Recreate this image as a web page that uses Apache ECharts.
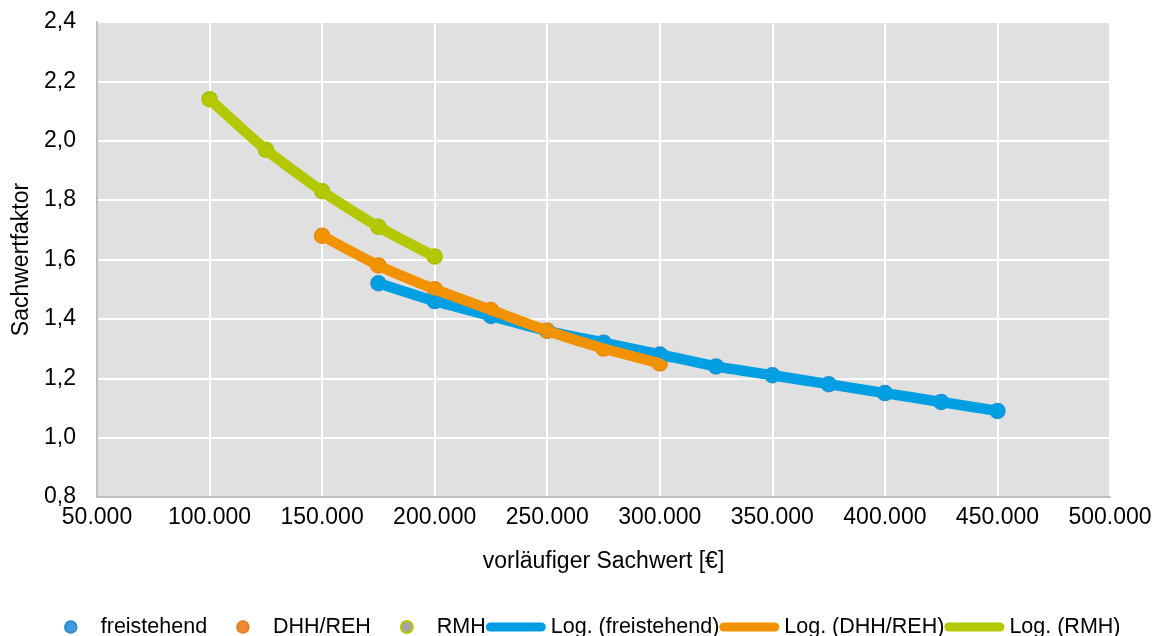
<!DOCTYPE html>
<html>
<head>
<meta charset="utf-8">
<script src="https://cdn.jsdelivr.net/npm/echarts@6/dist/echarts.min.js"></script>
<style>
html,body{margin:0;padding:0;background:#fff;}
#chart{width:1155px;height:636px;}
</style>
</head>
<body>
<div id="chart"></div>
<script>
// Data
const xFrei = [175000, 200000, 225000, 250000, 275000, 300000, 325000, 350000, 375000, 400000, 425000, 450000];
const yFrei = [1.52, 1.46, 1.41, 1.36, 1.32, 1.28, 1.24, 1.21, 1.18, 1.15, 1.12, 1.09];
const xDhh = [150000, 175000, 200000, 225000, 250000, 275000, 300000];
const yDhh = [1.68, 1.58, 1.50, 1.43, 1.36, 1.30, 1.25];
const xRmh = [100000, 125000, 150000, 175000, 200000];
const yRmh = [2.14, 1.97, 1.83, 1.71, 1.61];
const seriesNames = ['freistehend', 'DHH/REH', 'RMH', 'Log. (freistehend)', 'Log. (DHH/REH)', 'Log. (RMH)'];
const xAxisName = 'vorläufiger Sachwert [€]';
const yAxisName = 'Sachwertfaktor';

const pairs = (xs, ys) => xs.map((x, i) => [x, ys[i]]);
const cBlue = '#009fe3', cOrange = '#f39200', cGreen = '#b3c800';
const FONT = '"Liberation Sans", Arial, sans-serif';

// legend icons: invisible bounding box 60x13 so the icon fills the legend slot
const dotIcon = 'path://M0,0M60,13M29,6.5a6,6 0 1,0 12,0a6,6 0 1,0 -12,0Z';
const barIcon = 'path://M0,0M60,13M4.5,2L55.5,2A4.5,4.5 0 0,1 55.5,11L4.5,11A4.5,4.5 0 0,1 4.5,2Z';

const chart = echarts.init(document.getElementById('chart'), null, {renderer: 'canvas'});

function scatter(name, data, color, border, z) {
  return {
    name: name, type: 'scatter', data: data, symbol: 'circle', symbolSize: 15, z: z,
    itemStyle: {color: color, borderColor: border, borderWidth: 1.5, opacity: 1},
    emphasis: {disabled: true}
  };
}
function trend(name, data, color, z) {
  return {
    name: name, type: 'line', data: data, symbol: 'none', smooth: 0.2, z: z,
    lineStyle: {color: color, width: 10.5, cap: 'round', join: 'round'},
    itemStyle: {color: color},
    emphasis: {disabled: true}
  };
}

const option = {
  animation: false,
  textStyle: {fontFamily: FONT},
  grid: {left: 97, right: 45, top: 22, bottom: 139, show: true, backgroundColor: '#e0e0e0', borderWidth: 0},
  xAxis: {
    type: 'value', min: 50000, max: 500000, interval: 50000,
    name: xAxisName, nameLocation: 'middle', nameGap: 53,
    nameTextStyle: {fontSize: 23, color: '#000', fontFamily: FONT},
    axisLine: {show: true, onZero: false, lineStyle: {color: '#bfbfbf', width: 2}},
    axisTick: {show: false},
    axisLabel: {fontSize: 23, color: '#000', margin: 9, fontFamily: FONT,
      formatter: v => String(v).replace(/\B(?=(\d{3})+(?!\d))/g, '.')},
    splitLine: {show: true, lineStyle: {color: '#ffffff', width: 2}}
  },
  yAxis: {
    type: 'value', min: 0.8, max: 2.4, interval: 0.2,
    name: yAxisName, nameLocation: 'middle', nameGap: 62, nameRotate: 90,
    nameTextStyle: {fontSize: 23, color: '#000', fontFamily: FONT},
    axisLine: {show: true, onZero: false, lineStyle: {color: '#bfbfbf', width: 2}},
    axisTick: {show: false},
    axisLabel: {fontSize: 23, color: '#000', margin: 21, fontFamily: FONT,
      formatter: v => v.toFixed(1).replace('.', ',')},
    splitLine: {show: true, lineStyle: {color: '#ffffff', width: 2}}
  },
  legend: {
    left: 30, top: 611, itemWidth: 60, itemHeight: 13, itemGap: 0,
    textStyle: {fontSize: 21.5, color: '#000', fontFamily: FONT},
    data: [
      {name: seriesNames[0], icon: dotIcon, itemStyle: {color: '#3d9bdb', borderColor: '#2a86c6', borderWidth: 1.5}},
      {name: seriesNames[1], icon: dotIcon, itemStyle: {color: '#ef8a2e', borderColor: '#e07b1f', borderWidth: 1.5}},
      {name: seriesNames[2], icon: dotIcon, itemStyle: {color: '#a5a5a5', borderColor: '#b3c800', borderWidth: 2}},
      {name: seriesNames[3], icon: barIcon, itemStyle: {color: cBlue, borderWidth: 0}},
      {name: seriesNames[4], icon: barIcon, itemStyle: {color: cOrange, borderWidth: 0}},
      {name: seriesNames[5], icon: barIcon, itemStyle: {color: cGreen, borderWidth: 0}}
    ]
  },
  series: [
    scatter(seriesNames[0], pairs(xFrei, yFrei), cBlue, '#1c93d4', 2),
    scatter(seriesNames[1], pairs(xDhh, yDhh), cOrange, '#e6880a', 2),
    scatter(seriesNames[2], pairs(xRmh, yRmh), cGreen, '#a9bd00', 2),
    trend(seriesNames[3], pairs(xFrei, yFrei), cBlue, 3),
    trend(seriesNames[4], pairs(xDhh, yDhh), cOrange, 4),
    trend(seriesNames[5], pairs(xRmh, yRmh), cGreen, 5)
  ]
};
chart.setOption(option);
</script>
</body>
</html>
